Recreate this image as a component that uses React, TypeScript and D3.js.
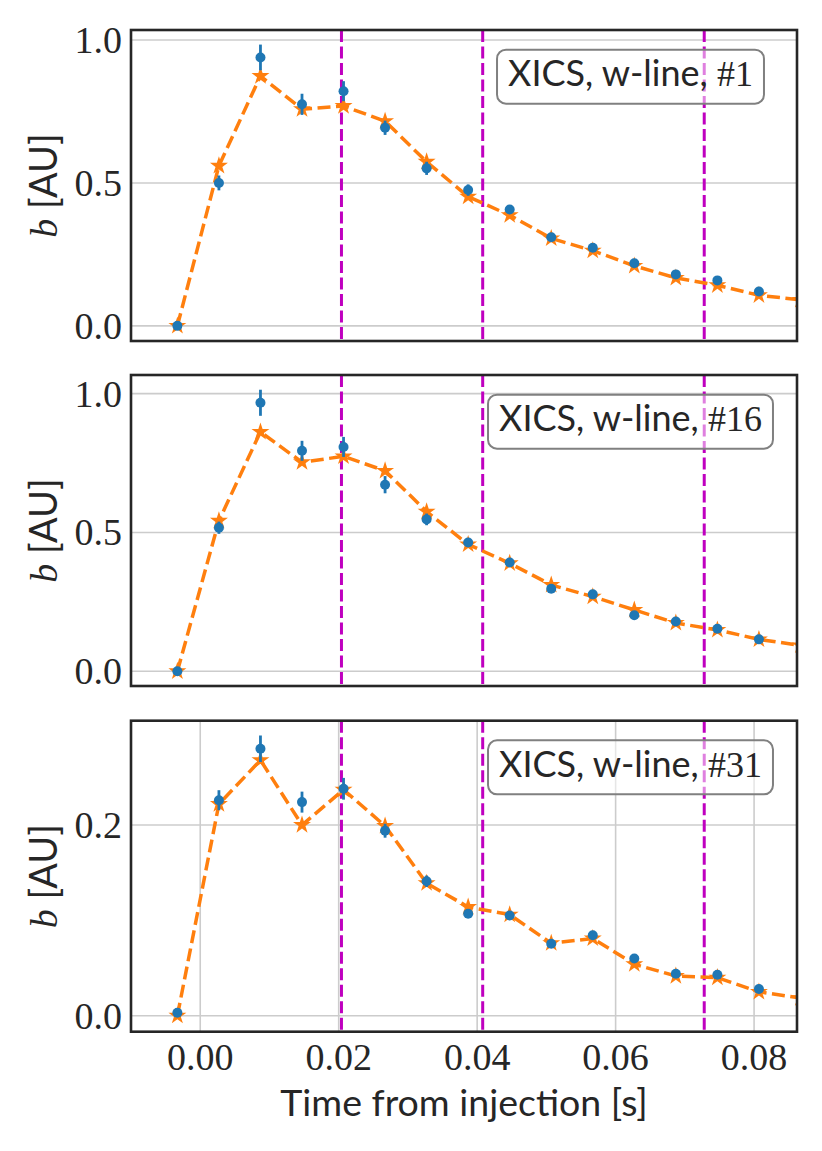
import React, { useEffect, useRef } from 'react';
import * as d3 from 'd3';

// sample times (s) of the measured points, and the model which runs one step further
const times = [-0.0033, 0.0027, 0.0087, 0.0147, 0.0207, 0.0267, 0.0327, 0.0387, 0.0447, 0.0507, 0.0567, 0.0627, 0.0687, 0.0747, 0.0807];
const fitTimes = [...times, 0.0867];

const shot1Meas = [0.0, 0.5, 0.939, 0.775, 0.821, 0.693, 0.551, 0.475, 0.407, 0.31, 0.273, 0.219, 0.18, 0.159, 0.12];
const shot1Err = [0.005, 0.026, 0.045, 0.037, 0.035, 0.025, 0.023, 0.02, 0.015, 0.01, 0.01, 0.01, 0.008, 0.008, 0.008];
const shot1Fit = [0.0, 0.56, 0.874, 0.758, 0.769, 0.716, 0.574, 0.452, 0.387, 0.306, 0.263, 0.21, 0.168, 0.142, 0.107, 0.091];

const shot16Meas = [0.0, 0.517, 0.967, 0.794, 0.808, 0.672, 0.547, 0.464, 0.392, 0.297, 0.277, 0.202, 0.179, 0.153, 0.115];
const shot16Err = [0.005, 0.022, 0.047, 0.036, 0.036, 0.031, 0.021, 0.015, 0.012, 0.01, 0.01, 0.01, 0.008, 0.008, 0.008];
const shot16Fit = [0.0, 0.542, 0.862, 0.753, 0.774, 0.722, 0.575, 0.457, 0.389, 0.311, 0.269, 0.221, 0.174, 0.149, 0.115, 0.093];

const shot31Meas = [0.003, 0.226, 0.28, 0.224, 0.238, 0.194, 0.141, 0.107, 0.105, 0.0755, 0.0843, 0.06, 0.044, 0.043, 0.028];
const shot31Err = [0.002, 0.0105, 0.014, 0.011, 0.0114, 0.0073, 0.006, 0.003, 0.003, 0.003, 0.003, 0.003, 0.003, 0.003, 0.003];
const shot31Fit = [0.0, 0.222, 0.268, 0.2, 0.237, 0.199, 0.139, 0.114, 0.106, 0.076, 0.081, 0.054, 0.0416, 0.04, 0.025, 0.0185];

const shotLabels = ['#1', '#16', '#31'];
const injectionLines = [0.0204, 0.0408, 0.0728];
const xTicks = [0, 0.02, 0.04, 0.06, 0.08];
const yTicksUpper = [0, 0.5, 1.0];
const yTicksLower = [0, 0.2];

const W = 822;
const H = 1151;
const left = 131;
const right = 797;
const panelH = 311;
const ink = '#262626';
const serif = '"Liberation Serif", serif';
const sans = 'Lato, "Liberation Sans", sans-serif';

const App = () => {
  const svgRef = useRef<SVGSVGElement>(null);

  useEffect(() => {
    if (!svgRef.current) return;
    const svg = d3.select(svgRef.current);
    svg.selectAll('*').remove();

    const x = d3.scaleLinear().domain([-0.01, 0.0862]).range([left, right]);

    const panels = [
      { top: 30, domain: [-0.053, 1.035], ticks: yTicksUpper, meas: shot1Meas, err: shot1Err, fit: shot1Fit, xgrid: false },
      { top: 375, domain: [-0.053, 1.067], ticks: yTicksUpper, meas: shot16Meas, err: shot16Err, fit: shot16Fit, xgrid: false },
      { top: 720.7, domain: [-0.0168, 0.3094], ticks: yTicksLower, meas: shot31Meas, err: shot31Err, fit: shot31Fit, xgrid: true },
    ];

    panels.forEach((p, k) => {
      const y = d3.scaleLinear().domain(p.domain).range([p.top + panelH, p.top]);
      const g = svg.append('g');
      const clipId = `clip${k}`;
      g.append('clipPath').attr('id', clipId)
        .append('rect').attr('x', left).attr('y', p.top).attr('width', right - left).attr('height', panelH);

      // grid
      g.selectAll('.hgrid').data(p.ticks).enter().append('line')
        .attr('x1', left).attr('x2', right)
        .attr('y1', d => y(d)).attr('y2', d => y(d))
        .attr('stroke', '#cccccc').attr('stroke-width', 1.6);
      if (p.xgrid) {
        g.selectAll('.vgrid').data(xTicks).enter().append('line')
          .attr('x1', d => x(d)).attr('x2', d => x(d))
          .attr('y1', p.top).attr('y2', p.top + panelH)
          .attr('stroke', '#cccccc').attr('stroke-width', 1.6);
      }

      // y tick labels
      g.selectAll('.ytl').data(p.ticks).enter().append('text')
        .attr('x', left - 9).attr('y', d => y(d) + 13)
        .attr('text-anchor', 'end')
        .attr('font-family', serif).attr('font-size', 38).attr('fill', ink)
        .text(d => d3.format('.1f')(d));

      // y label
      const cy = p.top + panelH / 2;
      const yl = g.append('text')
        .attr('transform', `translate(57,${cy}) rotate(-90)`)
        .attr('text-anchor', 'middle').attr('fill', ink).attr('font-size', 38);
      yl.append('tspan').attr('font-family', serif).attr('font-style', 'italic').text('b');
      yl.append('tspan').attr('font-family', sans).text(' [AU]');

      const plot = g.append('g').attr('clip-path', `url(#${clipId})`);

      // injection markers
      plot.selectAll('.inj').data(injectionLines).enter().append('line')
        .attr('x1', d => x(d)).attr('x2', d => x(d))
        .attr('y1', p.top).attr('y2', p.top + panelH)
        .attr('stroke', '#bf00bf').attr('stroke-width', 3).attr('stroke-dasharray', '12 4.5');

      // model
      const line = d3.line<number>().x((_, i) => x(fitTimes[i])).y(d => y(d));
      plot.append('path').datum(p.fit)
        .attr('d', line).attr('fill', 'none')
        .attr('stroke', '#ff7f0e').attr('stroke-width', 3.5).attr('stroke-dasharray', '13 5.5');
      const star = d3.symbol().type(d3.symbolStar).size(100);
      plot.selectAll('.star').data(p.fit).enter().append('path')
        .attr('d', star)
        .attr('transform', (d, i) => `translate(${x(fitTimes[i])},${y(d)})`)
        .attr('fill', '#ff7f0e');

      // measurements
      plot.selectAll('.eb').data(p.meas).enter().append('line')
        .attr('x1', (_, i) => x(times[i])).attr('x2', (_, i) => x(times[i]))
        .attr('y1', (d, i) => y(d - p.err[i])).attr('y2', (d, i) => y(d + p.err[i]))
        .attr('stroke', '#1f77b4').attr('stroke-width', 2.8);
      plot.selectAll('.dot').data(p.meas).enter().append('circle')
        .attr('cx', (_, i) => x(times[i])).attr('cy', d => y(d)).attr('r', 5)
        .attr('fill', '#1f77b4');

      // label box
      const cx = left + 0.75 * (right - left);
      const by = p.top + 0.15 * panelH;
      const boxG = g.append('g');
      const rect = boxG.append('rect');
      const txt = boxG.append('text')
        .attr('x', cx).attr('y', by + 9.7).attr('text-anchor', 'middle')
        .attr('font-size', 36).attr('fill', ink);
      txt.append('tspan').attr('font-family', sans).text('XICS, w-line, ');
      txt.append('tspan').attr('font-family', serif).text(shotLabels[k]);
      const tw = (txt.node() as SVGTextElement).getComputedTextLength();
      rect.attr('x', cx - tw / 2 - 11).attr('y', by - 27).attr('width', tw + 22).attr('height', 54)
        .attr('rx', 9).attr('fill', 'white').attr('fill-opacity', 0.5)
        .attr('stroke', '#808080').attr('stroke-width', 2);

      // spines
      g.append('rect').attr('x', left).attr('y', p.top).attr('width', right - left).attr('height', panelH)
        .attr('fill', 'none').attr('stroke', ink).attr('stroke-width', 2.6);

      if (k === panels.length - 1) {
        g.selectAll('.xtl').data(xTicks).enter().append('text')
          .attr('x', d => x(d)).attr('y', p.top + panelH + 38.5)
          .attr('text-anchor', 'middle')
          .attr('font-family', serif).attr('font-size', 38).attr('fill', ink)
          .text(d => d3.format('.2f')(d));
        g.append('text')
          .attr('x', (left + right) / 2).attr('y', 1116)
          .attr('text-anchor', 'middle')
          .attr('font-family', sans).attr('font-size', 37.5).attr('fill', ink)
          .text('Time from injection [s]');
      }
    });
  }, []);

  return (
    <div style={{ position: 'absolute', left: 0, top: 0 }}>
      <svg ref={svgRef} width={W} height={H} style={{ display: 'block', background: 'white' }} />
    </div>
  );
};

export default App;
